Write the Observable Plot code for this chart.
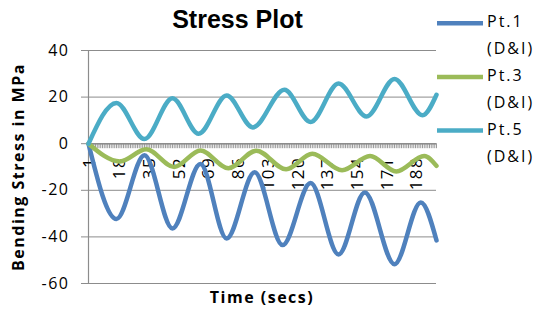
<!DOCTYPE html>
<html><head><meta charset="utf-8">
<script src="https://cdn.jsdelivr.net/npm/d3@7"></script>
<script src="https://cdn.jsdelivr.net/npm/@observablehq/plot@0.6"></script>
<style>
body{margin:0;background:#fff}
#wrap{position:relative;width:535px;height:318px;overflow:hidden;background:#fff}
#chart{position:absolute;left:0;top:0}
#title{position:absolute;left:237.5px;top:7px;transform:translateX(-50%);white-space:nowrap;font:bold 25px/25px "Liberation Sans",Arial,sans-serif;color:#000}
#legend{position:absolute;left:0;top:0;width:535px;height:318px;pointer-events:none}
#legtext{position:absolute;left:487px;top:8px;font:16px/27px "Open Sans",sans-serif;letter-spacing:2px;color:#000;white-space:nowrap}
</style>
</head><body>
<div id="wrap">
  <div id="chart"></div>
  <div id="title">Stress Plot</div>
  <svg id="legend" width="535" height="318"></svg>
  <div id="legtext"></div>
</div>
<script>
// ---- data ----
const seriesNames = ["Pt.1 (D&I)", "Pt.3 (D&I)", "Pt.5 (D&I)"];
const seriesColors = ["#4F81BD", "#9BBB59", "#4BACC6"];
const categoryCount = 200;
const xTickLabels = [1, 18, 35, 52, 69, 86, 103, 120, 137, 154, 171, 188];
const yTicks = [-60, -40, -20, 0, 20, 40];

// peaks / troughs of each series (time category, stress MPa)
const pt1Time = [1, 17, 33, 49, 65, 80, 96, 112, 128, 144, 159, 176, 191, 200];
const pt1Stress = [0, -32.3, -5, -36.4, -8.7, -40.7, -12.3, -43.5, -16.9, -47.5, -20.9, -51.7, -25.2, -41.5];
const pt3Time = [1, 19, 34, 50, 65, 81, 97, 114, 129, 146, 162, 177, 193, 200];
const pt3Stress = [0, -7.6, -2.4, -10, -2.9, -10.5, -3, -11, -4.3, -11.4, -5.3, -11.9, -5.3, -9.5];
const pt5Time = [1, 17, 33, 49, 64, 80, 95, 113, 128, 144, 160, 176, 192, 200];
const pt5Stress = [0, 17.5, 2, 19.5, 4.3, 20.7, 7, 23.2, 9.3, 25.8, 11.7, 27.8, 12.2, 21];

const series = [
  {name: seriesNames[0], color: seriesColors[0], time: pt1Time, stress: pt1Stress},
  {name: seriesNames[1], color: seriesColors[1], time: pt3Time, stress: pt3Stress},
  {name: seriesNames[2], color: seriesColors[2], time: pt5Time, stress: pt5Stress}
];
const rows = series.flatMap(s => s.time.map((t, i) => ({series: s.name, time: t, stress: s.stress[i]})));
const categories = Array.from({length: categoryCount}, (_, i) => i + 1);

const grey = "#8c8c8c";
const plot = Plot.plot({
  width: 535,
  height: 318,
  marginLeft: 88,
  marginRight: 99,
  marginTop: 50,
  marginBottom: 35,
  style: "font-family:'Open Sans',sans-serif;font-size:16px;letter-spacing:1.5px;background:#fff;color:#000;overflow:visible",
  x: {domain: [1, categoryCount], axis: null},
  y: {domain: [-60, 40], axis: null},
  color: {domain: seriesNames, range: seriesColors},
  marks: [
    Plot.ruleY(yTicks, {stroke: grey, strokeWidth: 1}),
    Plot.ruleX([1], {stroke: grey, strokeWidth: 1.2}),
    Plot.axisY({ticks: yTicks, tickSize: 7, tickPadding: 12, stroke: grey, fill: "#000", tickFormat: d => String(d), label: null}),
    Plot.ruleX(categories, {x: d => d, y1: 0, y2: 0, insetBottom: -5, stroke: "#9a9a9a", strokeWidth: 1}),
    Plot.ruleY([0], {stroke: grey, strokeWidth: 1.5}),
    Plot.text(xTickLabels, {x: d => d, y: 0, text: d => String(d), rotate: -90, textAnchor: "end", dy: 13, dx: 1.5, fontSize: 17, fill: "#000"}),
    Plot.line(rows, {x: "time", y: "stress", z: "series", stroke: "series", strokeWidth: 4.5, curve: "monotone-x"}),
    Plot.text(["Bending Stress in MPa"], {frameAnchor: "left", textAnchor: "middle", rotate: -90, dx: -70, text: d => d, fontWeight: "bold", fontSize: 16, fill: "#000"}),
    Plot.text(["Time (secs)"], {frameAnchor: "bottom", textAnchor: "middle", dy: 19.5, dx: -0.5, text: d => d, fontWeight: "bold", fontSize: 16, fill: "#000"})
  ]
});
document.getElementById("chart").appendChild(plot);

// legend
const legY = [23.3, 77, 130.5];
const leg = d3.select("#legend");
series.forEach((s, i) => {
  leg.append("line").attr("x1", 437).attr("x2", 483).attr("y1", legY[i]).attr("y2", legY[i])
    .attr("stroke", s.color).attr("stroke-width", 4.5);
});
const lt = document.getElementById("legtext");
lt.innerHTML = seriesNames.map(n => {
  const [a, b] = n.split(" ");
  return `<div>${a}</div><div>${b.replace("&", "&amp;")}</div>`;
}).join("");
</script>
</body></html>
